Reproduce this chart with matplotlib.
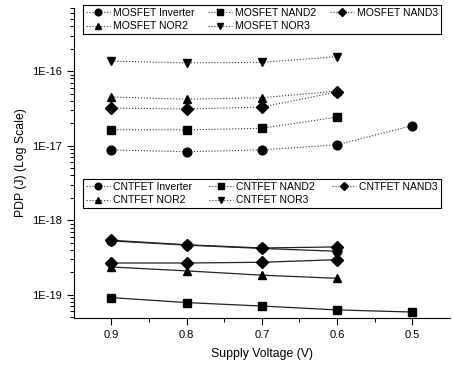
import numpy as np
import matplotlib; matplotlib.use("Agg")
import matplotlib.pyplot as plt
from matplotlib.lines import Line2D
from matplotlib.ticker import FuncFormatter, LogLocator, NullFormatter, FixedLocator

plt.rcParams['font.family'] = ['Liberation Sans', 'DejaVu Sans']

# supply voltage (V)
v4 = [0.9, 0.8, 0.7, 0.6]
v5 = [0.9, 0.8, 0.7, 0.6, 0.5]

# MOSFET PDP (J)
mos_inv = [8.8e-18, 8.3e-18, 8.8e-18, 1.03e-17, 1.86e-17]
mos_nand2 = [1.64e-17, 1.63e-17, 1.71e-17, 2.42e-17]
mos_nand3 = [3.2e-17, 3.1e-17, 3.3e-17, 5.25e-17]
mos_nor2 = [4.5e-17, 4.2e-17, 4.4e-17, 5.4e-17]
mos_nor3 = [1.36e-16, 1.29e-16, 1.31e-16, 1.56e-16]

# CNTFET PDP (J)
cnt_inv = [5.3e-19, 4.65e-19, 4.2e-19, 3.85e-19]
cnt_nand2 = [9.2e-20, 7.9e-20, 7.1e-20, 6.3e-20, 5.9e-20]
cnt_nand3 = [5.4e-19, 4.7e-19, 4.26e-19, 4.4e-19]
cnt_nor2 = [2.37e-19, 2.1e-19, 1.84e-19, 1.67e-19]
cnt_nor3 = [2.68e-19, 2.68e-19, 2.74e-19, 2.97e-19]

mos_names = ['MOSFET Inverter', 'MOSFET NAND2', 'MOSFET NAND3', 'MOSFET NOR2', 'MOSFET NOR3']
cnt_names = ['CNTFET Inverter', 'CNTFET NAND2', 'CNTFET NAND3', 'CNTFET NOR2', 'CNTFET NOR3']
markers = ['o', 's', 'D', '^', 'v']
msizes = [6.3, 5.8, 5.8, 6.3, 6.3]
leg_sizes = [4.8, 4.5, 4.2, 4.8, 4.8]
yticks = [1e-19, 1e-18, 1e-17, 1e-16]

fig = plt.figure(figsize=(4.53, 3.66), dpi=100)
ax = fig.add_axes([0.163, 0.131, 0.83, 0.847])

mos = [(v5, mos_inv), (v4, mos_nand2), (v4, mos_nand3), (v4, mos_nor2), (v4, mos_nor3)]
for (x, y), m, ms in zip(mos, markers, msizes):
    ax.plot(x, y, ls=':', color='#333', lw=0.8, marker=m, ms=ms, mfc='k', mec='k')

# CNTFET: nor3 values drawn with diamonds as in the source figure
cnt = [(v4, cnt_inv, 'o'), (v5, cnt_nand2, 's'), (v4, cnt_nor2, '^'),
       (v4, cnt_nor3, 'D'), (v4, cnt_nand3, 'D')]
for x, y, m in cnt:
    ax.plot(x, y, ls='-', color='#222', lw=0.9, marker=m, ms=6.3 if m != 's' else 5.8,
            mfc='k', mec='k')

ax.set_yscale('log')
ax.set_ylim(4.9e-20, 7e-16)
ax.set_xlim(0.95, 0.45)
ax.set_xticks([0.9, 0.8, 0.7, 0.6, 0.5])
ax.set_xticks([0.85, 0.75, 0.65, 0.55], minor=True)
ax.yaxis.set_major_locator(FixedLocator(yticks))
ax.yaxis.set_minor_locator(LogLocator(base=10, subs=np.arange(2, 10), numticks=20))
ax.yaxis.set_major_formatter(FuncFormatter(lambda v, p: '1E%d' % round(np.log10(v))))
ax.yaxis.set_minor_formatter(NullFormatter())
ax.xaxis.set_minor_formatter(NullFormatter())
ax.tick_params(which='both', direction='out', labelsize=8)
ax.tick_params(which='major', length=5, width=0.8)
ax.tick_params(which='minor', length=3, width=0.7)
for s in ['top', 'right']:
    ax.spines[s].set_visible(False)
ax.set_xlabel('Supply Voltage (V)', fontsize=8.8, labelpad=6)
ax.set_ylabel('PDP (J) (Log Scale)', fontsize=8.8, labelpad=4)

def handles(names):
    hs = [Line2D([], [], ls=':', color='#333', lw=0.8, marker=m, ms=ms, mfc='k', mec='k', label=n)
          for n, m, ms in zip(names, markers, leg_sizes)]
    # legend fills by column; reorder so rows read left to right
    return [hs[0], hs[3], hs[1], hs[4], hs[2]]

leg_kw = dict(ncol=3, mode='expand', fancybox=False, edgecolor='k', framealpha=1,
              fontsize=7.5, handlelength=2.3, handletextpad=0.3, columnspacing=0.4,
              borderpad=0.3, labelspacing=0.3, borderaxespad=0, loc='upper left',
              bbox_transform=fig.transFigure)
l1 = ax.legend(handles=handles(mos_names), bbox_to_anchor=(83/453, 1 - 35/366, 358/453, 30/366), **leg_kw)
l1.get_frame().set_linewidth(0.8)
ax.add_artist(l1)
l2 = ax.legend(handles=handles(cnt_names), bbox_to_anchor=(83/453, 1 - 211/366, 358/453, 32/366), **leg_kw)
l2.get_frame().set_linewidth(0.8)

fig.savefig('out.png', dpi=100)
